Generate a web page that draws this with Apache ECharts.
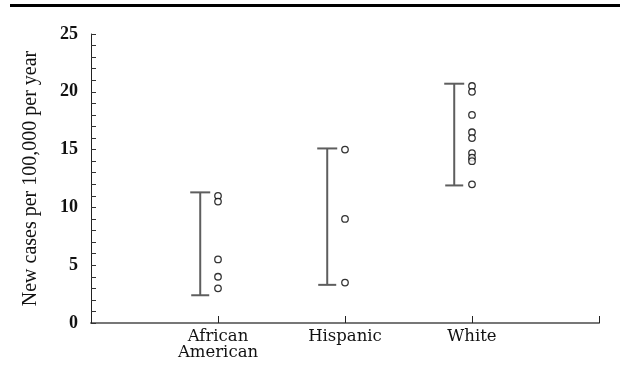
<!DOCTYPE html>
<html>
<head>
<meta charset="utf-8">
<script src="https://cdn.jsdelivr.net/npm/echarts@6/dist/echarts.min.js"></script>
<style>
  html, body { margin: 0; padding: 0; background: #fff; }
  #chart { width: 620px; height: 386px; }
</style>
</head>
<body>
<div id="chart"></div>
<script>
// Group labels, placed at positions 1, 2, 3 on the horizontal axis
var categories = ['African\nAmerican', 'Hispanic', 'White'];

// Individual study rates (new cases per 100,000 per year)
var africanAmerican = [11, 10.5, 5.5, 4, 3];
var hispanic = [15, 9, 3.5];
var white = [20.5, 20, 18, 16.5, 16, 14.7, 14.3, 14, 12];

// Range bars for each group: [low, high]
var rangeLow = [2.4, 3.3, 11.9];
var rangeHigh = [11.3, 15.1, 20.7];

// Y axis ticks
var yMin = 0, yMax = 25, yStep = 5;

var groups = [africanAmerican, hispanic, white];
var pointData = [];
groups.forEach(function (vals, i) {
  vals.forEach(function (v) { pointData.push([i + 1, v]); });
});
var barOffset = 0.14;
var rangeData = rangeLow.map(function (lo, i) {
  return [i + 1 - barOffset, lo, rangeHigh[i]];
});

var chart = echarts.init(document.getElementById('chart'));
var barColor = '#5e5e5e';

chart.setOption({
  animation: false,
  backgroundColor: '#fff',
  graphic: [{
    type: 'rect',
    shape: { x: 10, y: 4, width: 610, height: 3 },
    style: { fill: '#000' }
  }],
  grid: { left: 91, right: 21, top: 34, bottom: 63 },
  xAxis: {
    type: 'value',
    min: 0, max: 4, interval: 1,
    axisLine: { show: true, onZero: false, lineStyle: { color: '#777', width: 2 } },
    axisTick: { show: true, inside: true, length: 7, lineStyle: { color: '#222', width: 1 } },
    splitLine: { show: false },
    axisLabel: {
      margin: 6,
      color: '#111',
      fontFamily: 'DejaVu Serif',
      fontSize: 16.5,
      lineHeight: 15.5,
      formatter: function (v) {
        return (v >= 1 && v <= 3) ? categories[v - 1] : '';
      }
    }
  },
  yAxis: {
    type: 'value',
    min: yMin, max: yMax, interval: yStep,
    name: 'New cases per 100,000 per year',
    nameLocation: 'middle',
    nameGap: 50,
    nameTextStyle: { fontFamily: 'Liberation Serif', fontSize: 20, color: '#111' },
    axisLine: { show: true, lineStyle: { color: '#222', width: 1 } },
    axisTick: { show: true, inside: true, length: 5, lineStyle: { color: '#333', width: 1 } },
    minorTick: { show: true, splitNumber: 5, length: 5, lineStyle: { color: '#333', width: 1 } },
    splitLine: { show: false },
    axisLabel: {
      margin: 13,
      color: '#111',
      fontFamily: 'Liberation Serif',
      fontWeight: 'bold',
      fontSize: 18
    }
  },
  series: [
    {
      type: 'custom',
      data: rangeData,
      renderItem: function (params, api) {
        var x = api.value(0);
        var top = api.coord([x, api.value(2)]);
        var bot = api.coord([x, api.value(1)]);
        var half = 9;
        var style = { stroke: barColor, lineWidth: 2, fill: null };
        return {
          type: 'group',
          children: [
            { type: 'line', shape: { x1: top[0], y1: top[1], x2: bot[0], y2: bot[1] }, style: style },
            { type: 'line', shape: { x1: top[0] - half - 1, y1: top[1], x2: top[0] + half + 1, y2: top[1] }, style: style },
            { type: 'line', shape: { x1: bot[0] - half, y1: bot[1], x2: bot[0] + half, y2: bot[1] }, style: style }
          ]
        };
      },
      z: 2
    },
    {
      type: 'scatter',
      data: pointData,
      symbol: 'circle',
      symbolSize: 6.5,
      itemStyle: { color: '#fff', borderColor: '#000', borderWidth: 1.3 },
      z: 3
    }
  ]
});
</script>
</body>
</html>
